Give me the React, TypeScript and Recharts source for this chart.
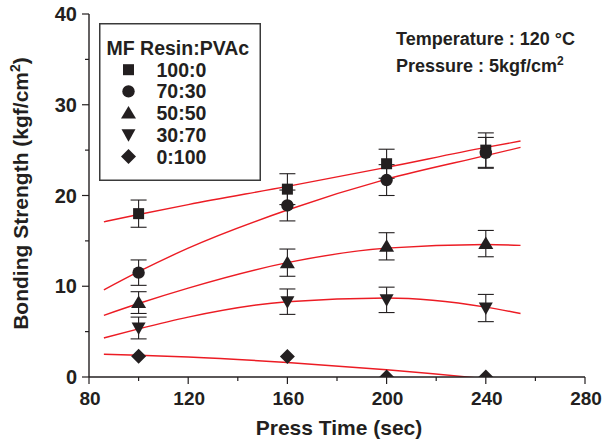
import { ComposedChart, Scatter, Line, XAxis, YAxis, ErrorBar, Legend } from "recharts";

// measured points (press time in sec, bonding strength in kgf/cm2)
const pressTimes = [100, 160, 200, 240];
const mixRatios = ["100:0", "70:30", "50:50", "30:70", "0:100"];
const markerKinds = ["square", "circle", "triangle", "invTriangle", "diamond"];

const strength100_0 = [18.0, 20.7, 23.5, 25.0];
const strength70_30 = [11.5, 18.9, 21.7, 24.7];
const strength50_50 = [8.2, 12.6, 14.4, 14.7];
const strength30_70 = [5.4, 8.3, 8.5, 7.6];
const strength0_100 = [2.3, 2.25, 0, 0];

const error100_0 = [1.5, 1.7, 1.6, 1.9];
const error70_30 = [1.4, 1.7, 1.7, 1.7];
const error50_50 = [1.2, 1.5, 1.5, 1.45];
const error30_70 = [1.2, 1.4, 1.4, 1.5];
const error0_100 = [0, 0, 0, 0];

// fitted curves
const fitTimes = [86, 100, 120, 160, 200, 240, 254];
const fit100_0 = [17.1, 17.9, 19.0, 21.0, 23.1, 25.3, 26.0];
const fit70_30 = [9.6, 11.6, 14.2, 18.4, 21.8, 24.4, 25.3];
const fit50_50 = [6.8, 8.1, 9.8, 12.6, 14.2, 14.6, 14.5];
const fit30_70 = [4.3, 5.3, 6.6, 8.3, 8.7, 7.7, 7.0];
const fit0_100 = [2.5, 2.4, 2.2, 1.6, 0.8, -0.2, -0.6];

const xMajorTicks = [80, 120, 160, 200, 240, 280];
const xMinorTicks = [100, 140, 180, 220, 260];
const yMajorTicks = [0, 10, 20, 30, 40];
const yMinorTicks = [5, 15, 25, 35];

const FONT = '"Liberation Sans", Arial, Helvetica, sans-serif';
const INK = "#231f20";
const RED = "#ec1c24";

const strengths = [strength100_0, strength70_30, strength50_50, strength30_70, strength0_100];
const errors = [error100_0, error70_30, error50_50, error30_70, error0_100];
const fits = [fit100_0, fit70_30, fit50_50, fit30_70, fit0_100];

const series = mixRatios.map((ratio, i) => ({
  ratio,
  kind: markerKinds[i],
  points: pressTimes.map((t, j) => ({ x: t, y: strengths[i][j], err: errors[i][j] })),
  fit: fitTimes.map((t, j) => ({ x: t, y: fits[i][j] })),
}));

const xAllTicks = [...xMajorTicks, ...xMinorTicks].sort((a, b) => a - b);
const yAllTicks = [...yMajorTicks, ...yMinorTicks].sort((a, b) => a - b);

const Marker = ({ kind, cx, cy }: any) => {
  if (kind === "square") return <rect x={cx - 5.5} y={cy - 5.5} width={11} height={11} fill={INK} />;
  if (kind === "circle") return <circle cx={cx} cy={cy} r={6.2} fill={INK} />;
  if (kind === "triangle")
    return <path d={`M${cx},${cy - 7}L${cx + 7.5},${cy + 5.5}L${cx - 7.5},${cy + 5.5}Z`} fill={INK} />;
  if (kind === "invTriangle")
    return <path d={`M${cx},${cy + 7}L${cx + 7},${cy - 5.5}L${cx - 7},${cy - 5.5}Z`} fill={INK} />;
  return <path d={`M${cx},${cy - 7.5}L${cx + 7.5},${cy}L${cx},${cy + 7.5}L${cx - 7.5},${cy}Z`} fill={INK} />;
};

// tickSize/tickMargin are 0 so x,y sit on the axis line; draw marks and labels here
const AxisTick = (props: any) => {
  const { x, y, payload, side, majors, showLabel, fontSize } = props;
  const major = majors.includes(payload.value);
  const len = showLabel ? (major ? 7 : 4) : major ? 5 : 3;
  const label = showLabel && major;
  const txt = { fill: INK, fontFamily: FONT, fontWeight: 700, fontSize };
  if (side === "bottom")
    return (
      <g>
        <line x1={x} y1={y} x2={x} y2={y + len} stroke={INK} strokeWidth={1.2} />
        {label && (
          <text x={x + 1} y={y + 14.5} dy="0.71em" textAnchor="middle" {...txt}>
            {payload.value}
          </text>
        )}
      </g>
    );
  if (side === "left")
    return (
      <g>
        <line x1={x - len} y1={y} x2={x} y2={y} stroke={INK} strokeWidth={1.2} />
        {label && (
          <text x={x - 12} y={y} dy="0.355em" textAnchor="end" {...txt}>
            {payload.value}
          </text>
        )}
      </g>
    );
  if (side === "top") return <line x1={x} y1={y - len} x2={x} y2={y} stroke={INK} strokeWidth={1.2} />;
  return <line x1={x} y1={y} x2={x + len} y2={y} stroke={INK} strokeWidth={1.2} />;
};

const XTitle = ({ viewBox }: any) => {
  const vb = viewBox || { x: 89, y: 377, width: 496 };
  return (
    <text x={vb.x + vb.width / 2 + 2} y={vb.y + 58} textAnchor="middle" fill={INK} fontFamily={FONT} fontWeight={700} fontSize={21}>
      Press Time (sec)
    </text>
  );
};

const YTitle = ({ viewBox }: any) => {
  const vb = viewBox || { x: 29, y: 14, height: 363 };
  const cx = vb.x - 1.5;
  const cy = vb.y + vb.height / 2 - 2;
  return (
    <text x={cx} y={cy} transform={`rotate(-90, ${cx}, ${cy})`} textAnchor="middle" fill={INK} fontFamily={FONT} fontWeight={700} fontSize={21}>
      Bonding Strength (kgf/cm
      <tspan dy={-8} fontSize={14}>2</tspan>
      <tspan dy={8}>)</tspan>
    </text>
  );
};

const LegendBox = () => (
  <svg width={162} height={158} style={{ display: "block" }}>
    <rect x={0.75} y={0.75} width={160.5} height={156.5} fill="#fff" stroke="#3a3a3a" strokeWidth={1.5} />
    <text x={7.5} y={31.5} fill={INK} fontFamily={FONT} fontWeight={700} fontSize={19.5}>
      MF Resin:PVAc
    </text>
    {mixRatios.map((r, i) => (
      <g key={r}>
        <Marker kind={markerKinds[i]} cx={29.5} cy={46.7 + i * 21.7} />
        <text x={57.5} y={46.7 + i * 21.7 + 7} fill={INK} fontFamily={FONT} fontWeight={700} fontSize={19.5}>
          {r}
        </text>
      </g>
    ))}
  </svg>
);

export default function App() {
  return (
    <div style={{ position: "absolute", left: 0, top: 0, width: 615, height: 444, background: "#fff" }}>
      <ComposedChart width={615} height={444} margin={{ top: 14, right: 30, bottom: 17, left: 29 }}>
        <XAxis
          xAxisId="b"
          dataKey="x"
          type="number"
          domain={[80, 280]}
          allowDataOverflow
          ticks={xAllTicks}
          interval={0}
          height={50}
          tickSize={0}
          tickMargin={0}
          tickLine={false}
          axisLine={{ stroke: INK, strokeWidth: 1.4 }}
          tick={<AxisTick side="bottom" majors={xMajorTicks} showLabel fontSize={19} />}
          label={<XTitle />}
        />
        <XAxis
          xAxisId="t"
          orientation="top"
          type="number"
          domain={[80, 280]}
          allowDataOverflow
          ticks={xAllTicks}
          interval={0}
          height={0}
          tickSize={0}
          tickMargin={0}
          tickLine={false}
          axisLine={{ stroke: INK, strokeWidth: 1.4 }}
          tick={<AxisTick side="top" majors={xMajorTicks} />}
        />
        <YAxis
          yAxisId="l"
          type="number"
          domain={[0, 40]}
          allowDataOverflow
          ticks={yAllTicks}
          interval={0}
          width={60}
          tickSize={0}
          tickMargin={0}
          tickLine={false}
          axisLine={{ stroke: INK, strokeWidth: 1.4 }}
          tick={<AxisTick side="left" majors={yMajorTicks} showLabel fontSize={20} />}
          label={<YTitle />}
        />
        <YAxis
          yAxisId="r"
          orientation="right"
          type="number"
          domain={[0, 40]}
          allowDataOverflow
          ticks={yAllTicks}
          interval={0}
          width={0}
          tickSize={0}
          tickMargin={0}
          tickLine={false}
          axisLine={{ stroke: INK, strokeWidth: 1.4 }}
          tick={<AxisTick side="right" majors={yMajorTicks} />}
        />
        <Legend
          layout="vertical"
          align="center"
          verticalAlign="middle"
          wrapperStyle={{ left: 99, top: 23, width: 162, height: 158 }}
          content={<LegendBox />}
        />
        {series.map((s) => (
          <Scatter
            key={`pts-${s.ratio}`}
            name={s.ratio}
            data={s.points}
            dataKey="y"
            xAxisId="b"
            yAxisId="l"
            isAnimationActive={false}
            shape={(p: any) => <Marker kind={s.kind} cx={p.cx} cy={p.cy} />}
          >
            {s.kind !== "diamond" && (
              <ErrorBar dataKey="err" direction="y" width={8} stroke={INK} strokeWidth={1.1} isAnimationActive={false} />
            )}
          </Scatter>
        ))}
        {series.map((s) => (
          <Line
            key={`fit-${s.ratio}`}
            data={s.fit}
            dataKey="y"
            xAxisId="b"
            yAxisId="l"
            type="monotone"
            stroke={RED}
            strokeWidth={1.4}
            dot={false}
            activeDot={false}
            legendType="none"
            isAnimationActive={false}
          />
        ))}
      </ComposedChart>
      <svg width={615} height={444} style={{ position: "absolute", left: 0, top: 0, pointerEvents: "none" }}>
        <text x={396} y={45} fill={INK} fontFamily={FONT} fontWeight={700} fontSize={18}>
          Temperature : 120 °C
        </text>
        <text x={396} y={71.5} fill={INK} fontFamily={FONT} fontWeight={700} fontSize={18}>
          Pressure : 5kgf/cm
          <tspan dy={-7} fontSize={12}>2</tspan>
        </text>
      </svg>
    </div>
  );
}
